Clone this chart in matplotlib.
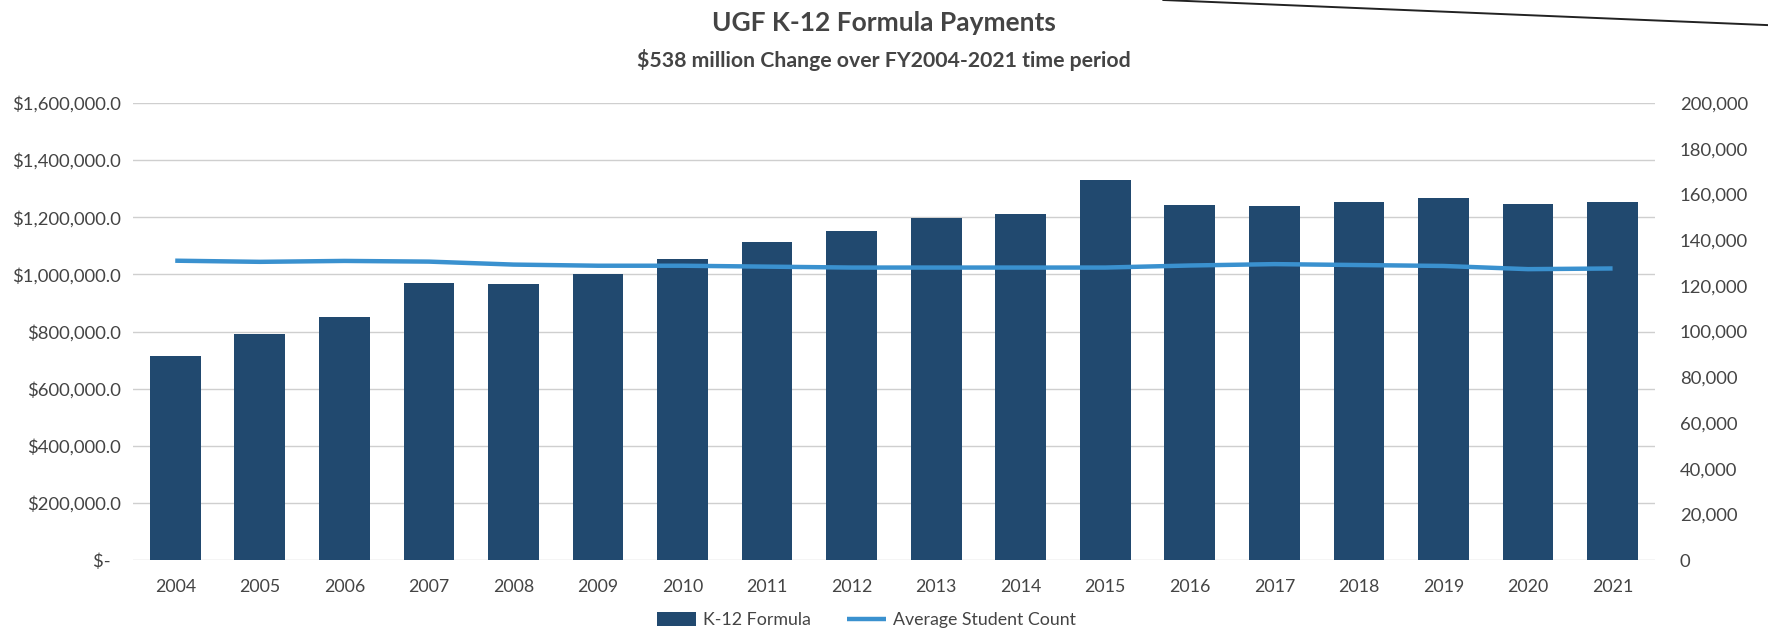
import matplotlib
matplotlib.use("Agg")
import matplotlib.pyplot as plt
from matplotlib.lines import Line2D
from matplotlib.ticker import FuncFormatter

# Fiscal years and series
years = ["2004", "2005", "2006", "2007", "2008", "2009", "2010", "2011", "2012",
         "2013", "2014", "2015", "2016", "2017", "2018", "2019", "2020", "2021"]
# K-12 formula payments, in thousands of dollars
k12_formula = [714, 793, 851, 971, 968, 1000, 1055, 1113, 1151,
               1198, 1212, 1331, 1244, 1240, 1252, 1266, 1245, 1252]
k12_formula = [v * 1000.0 for v in k12_formula]
# Average student count
student_count = [131000, 130500, 130900, 130600, 129300, 128800, 128800, 128400, 128000,
                 128000, 128000, 128000, 128900, 129500, 129100, 128700, 127300, 127600]

left_ticks = [0, 200000, 400000, 600000, 800000, 1000000, 1200000, 1400000, 1600000]
right_ticks = [0, 20000, 40000, 60000, 80000, 100000, 120000, 140000, 160000, 180000, 200000]

BAR = "#21496f"
LINE = "#3a91cf"
TEXT = "#444444"
GRID = "#cfcfcf"

plt.rcParams["font.family"] = ["Lato", "DejaVu Sans"]

fig = plt.figure(figsize=(17.68, 6.44), dpi=100)
ax = fig.add_axes([0.0752, 0.1304, 0.8608, 0.7096])

x = list(range(len(years)))
bars = ax.bar(x, k12_formula, width=0.6, color=BAR, zorder=2, label="K-12 Formula")
ax.set_xlim(-0.5, len(years) - 0.5)
ax.set_ylim(0, 1600000)
ax.grid(axis="y", color=GRID, linewidth=1.0, zorder=0)
ax.set_axisbelow(True)


def money(v, pos):
    if v == 0:
        return "$-  "
    return "${:,.1f}".format(v)


ax.set_yticks(left_ticks)
ax.yaxis.set_major_formatter(FuncFormatter(money))
ax.set_xticks(x)
ax.set_xticklabels(years)
ax.tick_params(axis="y", length=0, pad=9, labelsize=13.3, labelcolor=TEXT)
ax.tick_params(axis="x", length=0, pad=14, labelsize=12.8, labelcolor=TEXT)
for s in ax.spines.values():
    s.set_visible(False)

ax2 = ax.twinx()
line, = ax2.plot(x, student_count, color=LINE, linewidth=3.2, zorder=3,
                 label="Average Student Count", solid_capstyle="butt")
ax2.set_ylim(0, 200000)
ax2.set_yticks(right_ticks)
ax2.yaxis.set_major_formatter(FuncFormatter(lambda v, p: "{:,.0f}".format(v)))
ax2.tick_params(axis="y", length=0, pad=18, labelsize=13.3, labelcolor=TEXT)
for s in ax2.spines.values():
    s.set_visible(False)

fig.text(0.5, 0.964, "UGF K-12 Formula Payments", ha="center", va="center",
         fontsize=19, fontweight="bold", color=TEXT)
fig.text(0.5, 0.907, "$538 million Change over FY2004-2021 time period", ha="center",
         va="center", fontsize=15.3, fontweight="bold", color=TEXT)

fig.legend(handles=[bars, line], labels=["K-12 Formula", "Average Student Count"],
           loc="center", bbox_to_anchor=(0.49, 0.037), ncol=2, frameon=False,
           fontsize=12.8, labelcolor=TEXT, handlelength=2.2, handleheight=0.8,
           columnspacing=2.0, handletextpad=0.4)

# page edge running across the top right corner
fig.add_artist(Line2D([0.658, 1.0], [1.0, 0.961], transform=fig.transFigure,
                      color="#222222", linewidth=1.4))

fig.savefig("out.png", dpi=100)
